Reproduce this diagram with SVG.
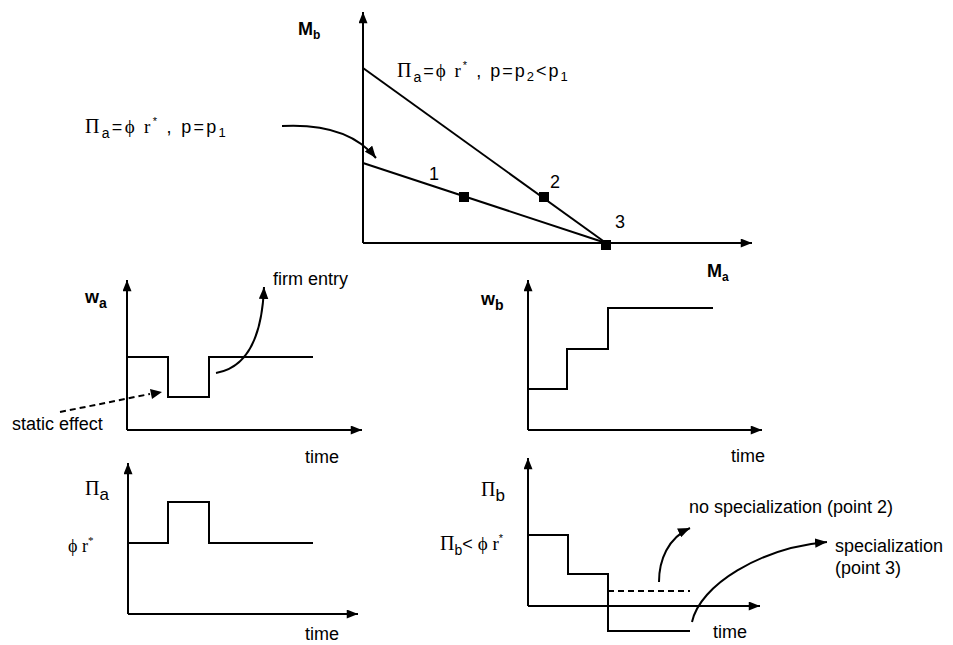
<svg xmlns="http://www.w3.org/2000/svg" width="953" height="645" viewBox="0 0 953 645">
<defs>
<marker id="ah" viewBox="0 0 10 8" refX="10" refY="4" markerWidth="12" markerHeight="9" markerUnits="userSpaceOnUse" orient="auto"><path d="M0,0 L10,4 L0,8 z" fill="#000"/></marker>
<marker id="ah2" viewBox="0 0 10 8" refX="10" refY="4" markerWidth="12" markerHeight="10" markerUnits="userSpaceOnUse" orient="auto"><path d="M0,0 L10,4 L0,8 z" fill="#000"/></marker>
</defs>
<style>
.ln{stroke:#000;stroke-width:2;fill:none}
.ax{stroke:#000;stroke-width:2;fill:none;marker-end:url(#ah)}
.cv{stroke:#000;stroke-width:2;fill:none;marker-end:url(#ah2)}
.dash{stroke:#000;stroke-width:2;fill:none;stroke-dasharray:6 4}
.t{font-family:"Liberation Sans",Arial,sans-serif;font-size:18px;fill:#000}
.s{font-family:"Liberation Serif","DejaVu Serif",serif}
.b{font-weight:bold}
.sq{fill:#000}
</style>
<rect width="953" height="645" fill="#fff"/>

<g id="chart-m">
<line class="ax" x1="363" y1="243" x2="363" y2="12"/>
<line class="ax" x1="363" y1="243" x2="752" y2="243"/>
<line class="ln" x1="363" y1="68" x2="606" y2="243"/>
<line class="ln" x1="363" y1="163" x2="606" y2="243"/>
<rect class="sq" x="459" y="192" width="10" height="10"/>
<rect class="sq" x="539" y="192" width="10" height="10"/>
<rect class="sq" x="601" y="240" width="10" height="10"/>
<text class="t" x="429" y="180" font-size="16">1</text>
<text class="t" x="550" y="188" font-size="16">2</text>
<text class="t" x="615" y="228" font-size="16">3</text>
<text class="t b" x="298" y="35" font-size="16">M<tspan font-size="12" dy="4">b</tspan></text>
<text class="t b" x="707" y="277" font-size="16">M<tspan font-size="12" dy="4">a</tspan></text>
<text class="t" x="397" y="77" letter-spacing="2"><tspan class="s" font-size="20">Π</tspan><tspan font-size="14" dy="5">a</tspan><tspan dy="-5">=</tspan><tspan class="s" font-size="19">ϕ r</tspan><tspan font-size="11" dy="-8">*</tspan><tspan dy="8"> , p=p</tspan><tspan font-size="13" dy="4">2</tspan><tspan dy="-4">&lt;p</tspan><tspan font-size="13" dy="4">1</tspan></text>
<text class="t" x="85" y="133" letter-spacing="2.3"><tspan class="s" font-size="20">Π</tspan><tspan font-size="14" dy="5">a</tspan><tspan dy="-5">=</tspan><tspan class="s" font-size="19">ϕ r</tspan><tspan font-size="11" dy="-8">*</tspan><tspan dy="8"> , p=p</tspan><tspan font-size="13" dy="4">1</tspan></text>
</g>

<g id="chart-wa">
<line class="ax" x1="127" y1="430" x2="127" y2="280"/>
<line class="ax" x1="127" y1="430" x2="362" y2="430"/>
<path class="ln" d="M127,357 H168 V397 H209 V357 H313"/>
<text class="t b" x="85" y="303">w<tspan font-size="14" dy="5">a</tspan></text>
<text class="t" x="273" y="285">firm entry</text>
<text class="t" x="12" y="430">static effect</text>
<text class="t" x="305" y="463">time</text>
</g>

<g id="chart-wb">
<line class="ax" x1="528" y1="430" x2="528" y2="280"/>
<line class="ax" x1="528" y1="430" x2="762" y2="430"/>
<path class="ln" d="M528,389 H567 V349 H608 V308 H713"/>
<text class="t b" x="481" y="305">w<tspan font-size="14" dy="5">b</tspan></text>
<text class="t" x="731" y="462">time</text>
</g>

<g id="chart-pia">
<line class="ax" x1="128" y1="614" x2="128" y2="463"/>
<line class="ax" x1="128" y1="614" x2="358" y2="614"/>
<path class="ln" d="M128,543 H168 V502 H209 V543 H313"/>
<text class="t" x="85" y="495"><tspan class="s" font-size="20">Π</tspan><tspan font-size="17" dy="5">a</tspan></text>
<text class="t s" x="68" y="552" font-size="19">ϕ r<tspan font-size="11" dy="-8">*</tspan></text>
<text class="t" x="305" y="640">time</text>
</g>

<g id="chart-pib">
<line class="ax" x1="528" y1="606" x2="528" y2="458"/>
<line class="ax" x1="528" y1="606" x2="760" y2="606"/>
<path class="ln" d="M528,535 H568 V574 H608 V631 H690"/>
<line class="dash" x1="608" y1="591" x2="690" y2="591"/>
<text class="t" x="481" y="496"><tspan class="s" font-size="20">Π</tspan><tspan font-size="17" dy="5">b</tspan></text>
<text class="t" x="440" y="550"><tspan class="s" font-size="20">Π</tspan><tspan font-size="14" dy="5">b</tspan><tspan dy="-5">&lt; </tspan><tspan class="s" font-size="19">ϕ r</tspan><tspan font-size="11" dy="-8">*</tspan></text>
<text class="t" x="689" y="513">no specialization (point 2)</text>
<text class="t" x="835" y="552">specialization</text>
<text class="t" x="835" y="574">(point 3)</text>
<text class="t" x="713" y="638">time</text>
</g>

<g id="connectors">
<path class="cv" d="M282,126 C320,124 355,132 376,158"/>
<path class="cv" d="M216,373 C245,368 262,340 264,287"/>
<path class="dash" d="M60,412 L150,394"/>
<path d="M150,389 L162,392 L152,399 z" fill="#000"/>
<path class="cv" d="M659,582 C659,560 668,538 690,528"/>
<path class="cv" d="M692,622 C700,585 760,548 827,542"/>
</g>
</svg>
